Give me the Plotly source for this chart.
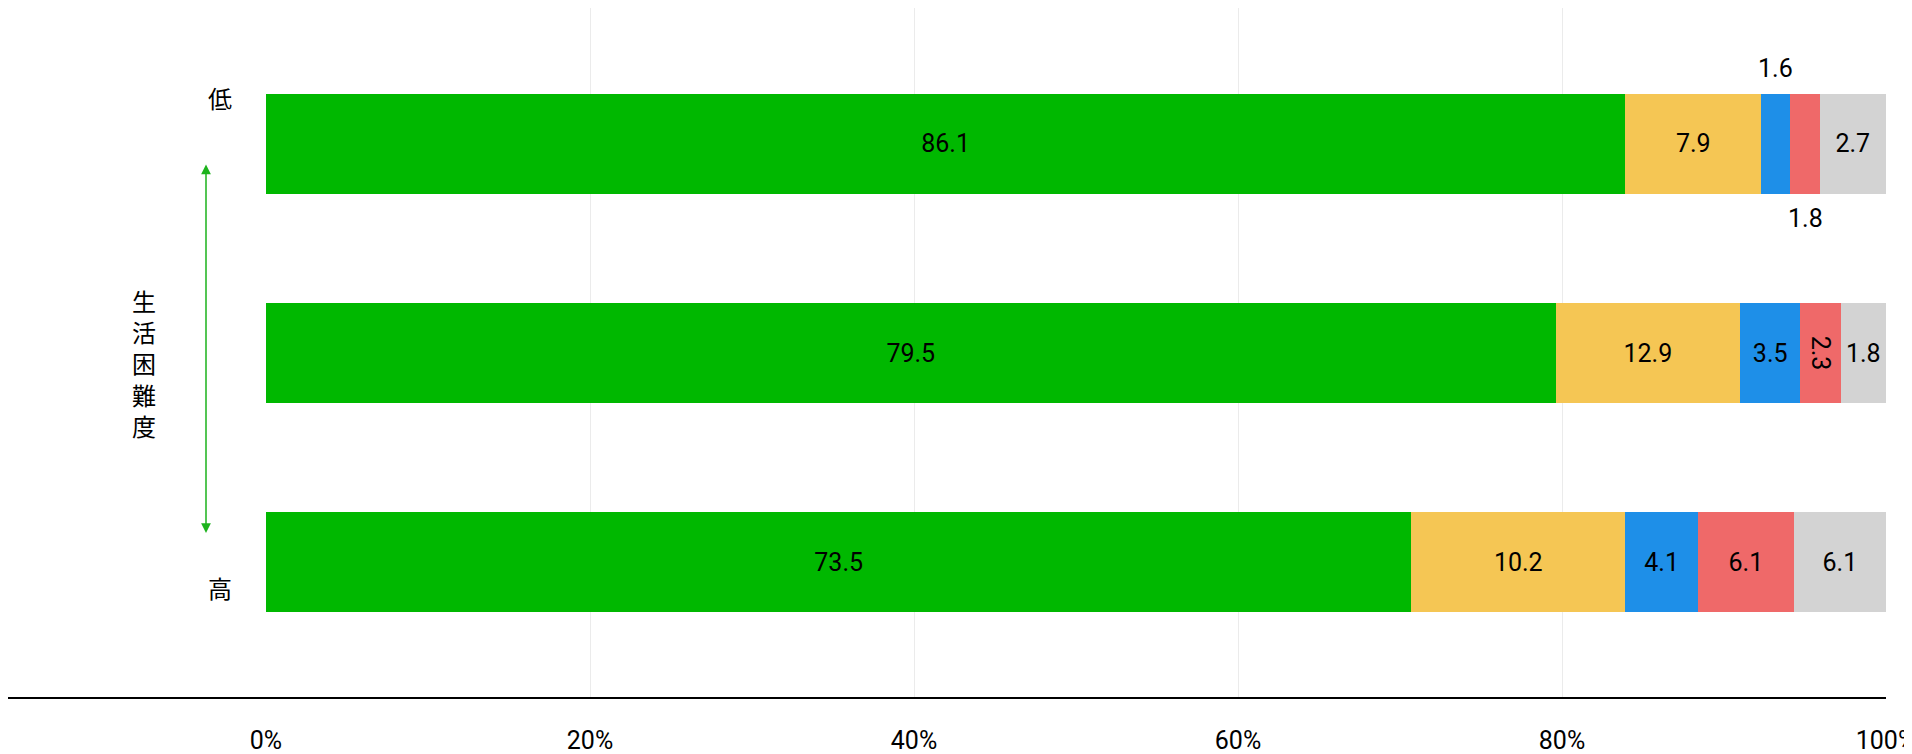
import plotly.graph_objects as go

rows = ["低", "中", "高"]
series_colors = ["#00B800", "#F5C654", "#1E8FE8", "#EF6969", "#D3D3D3"]
# bar widths (percent)
green = [83.9, 79.6, 70.7]
yellow = [8.4, 11.4, 13.2]
blue = [1.8, 3.7, 4.5]
red = [1.8, 2.5, 5.9]
gray = [4.1, 2.8, 5.7]
# printed labels
green_lbl = ["86.1", "79.5", "73.5"]
yellow_lbl = ["7.9", "12.9", "10.2"]
blue_lbl = ["1.6", "3.5", "4.1"]
red_lbl = ["1.8", "2.3", "6.1"]
gray_lbl = ["2.7", "1.8", "6.1"]
tick_vals = [0, 20, 40, 60, 80, 100]
tick_text = ["0%", "20%", "40%", "60%", "80%", "100%"]

FONT = "Roboto, 'Noto Sans CJK JP', sans-serif"
fig = go.Figure()
ypos = [0, 1, 2]
series = [green, yellow, blue, red, gray]
labels = [green_lbl, yellow_lbl, blue_lbl, red_lbl, gray_lbl]
for i, (vals, lbl) in enumerate(zip(series, labels)):
    txt = list(lbl)
    if i in (2, 3):
        txt[0] = ""
    fig.add_trace(go.Bar(
        y=ypos, x=vals, orientation="h", marker=dict(color=series_colors[i], line=dict(width=0)),
        text=txt, textposition="inside", insidetextanchor="middle",
        textfont=dict(color="black", size=25, family=FONT), width=0.48,
        hoverinfo="skip", showlegend=False))

fig.update_layout(
    width=1912, height=754, barmode="stack", plot_bgcolor="white", paper_bgcolor="white",
    margin=dict(l=258, r=34, t=0, b=64), font=dict(family=FONT, color="black"),
    uniformtext=dict(minsize=25, mode="show"),
    xaxis=dict(range=[0, 100], tickvals=tick_vals, ticktext=tick_text, showgrid=True,
               gridcolor="#EBEBEB", gridwidth=1, zeroline=False, ticks="", tickfont=dict(size=25),
               ticklabelstandoff=25),
    yaxis=dict(range=[2.65, -0.65], showticklabels=False, showgrid=False, zeroline=False),
)

x_blue = green[0] + yellow[0] + blue[0] / 2
x_red = green[0] + yellow[0] + blue[0] + red[0] / 2
fig.add_annotation(x=x_blue, y=0, yshift=75, text=blue_lbl[0], showarrow=False,
                   font=dict(size=25, color="black", family=FONT))
fig.add_annotation(x=x_red, y=0, yshift=-75, text=red_lbl[0], showarrow=False,
                   font=dict(size=25, color="black", family=FONT))

# bottom axis line across the page
fig.add_shape(type="line", xref="paper", yref="paper", x0=-258/1620, x1=1.0, y0=0, y1=0,
              line=dict(color="black", width=2))
# left side labels
fig.add_annotation(xref="paper", yref="y", x=-60/1620, y=-0.22, text="低", showarrow=False,
                   font=dict(size=24, family="Noto Sans CJK JP"))
fig.add_annotation(xref="paper", yref="y", x=-60/1620, y=2.12, text="高", showarrow=False,
                   font=dict(size=24, family="Noto Sans CJK JP"))
fig.add_annotation(xref="paper", yref="y", x=-136/1620, y=1.05, text="生<br>活<br>困<br>難<br>度",
                   showarrow=False, font=dict(size=24, family="Noto Sans CJK JP"), align="center")
fig.add_annotation(xref="paper", yref="paper", x=-60/1620, y=(690-525)/690,
                   ax=0, ay=-370, text="", showarrow=True, arrowhead=2, startarrowhead=2,
                   arrowside="end+start", arrowcolor="#1DB31D", arrowwidth=1.5, arrowsize=1.3,
                   startarrowsize=1.3)

fig.write_html("out.html")
